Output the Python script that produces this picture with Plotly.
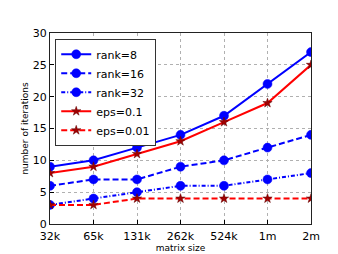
import plotly.graph_objects as go

categories = ["32k", "65k", "131k", "262k", "524k", "1m", "2m"]
rank8 = [9, 10, 12, 14, 17, 22, 27]
rank16 = [6, 7, 7, 9, 10, 12, 14]
rank32 = [3, 4, 5, 6, 6, 7, 8]
eps01 = [8, 9, 11, 13, 16, 19, 25]
eps001 = [3, 3, 4, 4, 4, 4, 4]

xs = list(range(len(categories)))

fig = go.Figure()
blue = "#0000ff"
red = "#ff0000"

def add(y, name, color, dash, symbol, msize, mline):
    fig.add_trace(go.Scatter(
        x=xs, y=y, name=name, mode="lines+markers",
        line=dict(color=color, width=2, dash=dash),
        marker=dict(symbol=symbol, size=msize, color=color if symbol == "circle" else "#a00000",
                    line=dict(color=mline, width=0.5)),
    ))

add(rank8, "rank=8", blue, "solid", "circle", 9, blue)
add(rank16, "rank=16", blue, "6px,3px", "circle", 9, blue)
add(rank32, "rank=32", blue, "4px,2px,1px,2px", "circle", 9, blue)
add(eps01, "eps=0.1", red, "solid", "star", 7, "#600000")
add(eps001, "eps=0.01", red, "6px,3px", "star", 7, "#600000")

fig.update_layout(
    width=338, height=254,
    margin=dict(l=42, r=35, t=25, b=26),
    paper_bgcolor="white", plot_bgcolor="white",
    font=dict(family="DejaVu Sans", size=11, color="black"),
    legend=dict(x=0.02, y=0.97, xanchor="left", yanchor="top",
                bgcolor="white", bordercolor="#333333", borderwidth=1,
                font=dict(size=11), tracegroupgap=0, itemwidth=30),
    xaxis=dict(range=[0, 6], tickvals=xs, ticktext=categories,
               showgrid=True, gridcolor="#b0b0b0", griddash="dot", gridwidth=1,
               showline=True, linecolor="#222222", mirror=True, linewidth=1,
               ticks="inside", ticklen=4, tickcolor="black",
               ticklabelstandoff=2,
               title=dict(text="matrix size", font=dict(size=9), standoff=0),
               zeroline=False),
    yaxis=dict(range=[0, 30], tickvals=[0, 5, 10, 15, 20, 25, 30],
               showgrid=True, gridcolor="#b0b0b0", griddash="dot", gridwidth=1,
               showline=True, linecolor="#222222", mirror=True, linewidth=1,
               ticks="inside", ticklen=4, tickcolor="black",
               title=dict(text="number of iterations", font=dict(size=9), standoff=2),
               zeroline=False),
)

fig.write_html("out.html")
